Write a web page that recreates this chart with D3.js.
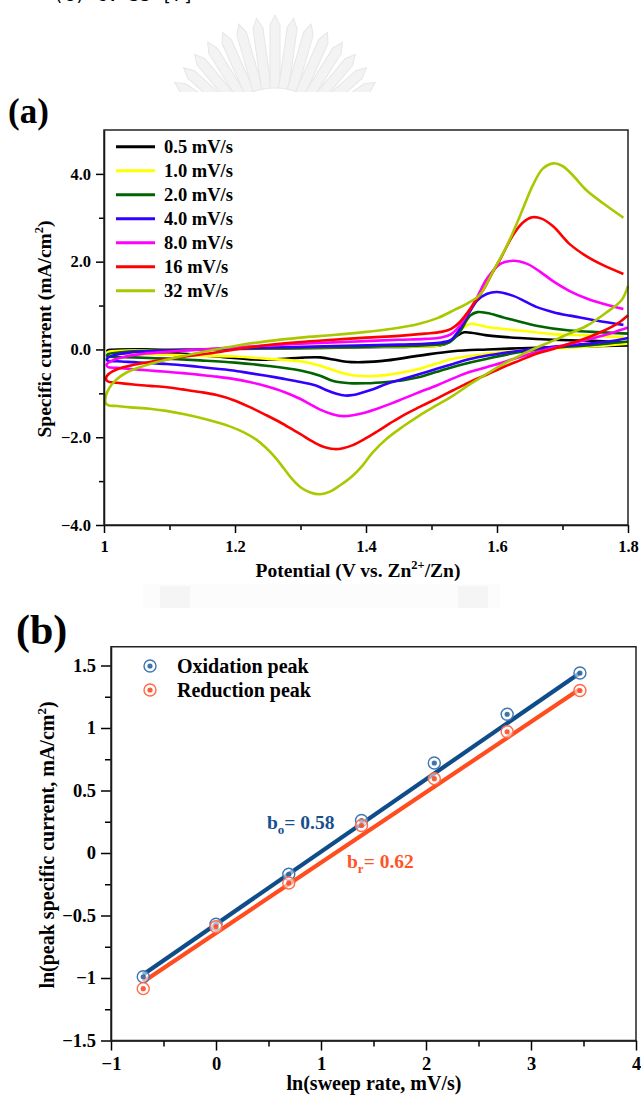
<!DOCTYPE html>
<html>
<head>
<meta charset="utf-8">
<script src="https://cdn.jsdelivr.net/npm/d3@7"></script>
<style>
  body { margin: 0; background: #fff; }
  svg { display: block; }
  text { font-family: "Liberation Serif", "Times New Roman", serif; font-weight: bold; fill: #000; }
</style>
</head>
<body>
<svg id="fig" width="641" height="1098"></svg>
<script>
// ---------- panel (a): CV loops, [potential (V), current (mA/cm2)]
// each loop: cathodic sweep 1.8 -> 1.0 V, then anodic sweep back to 1.8 V
const cv05 = [[1.800,0.09],[1.737,0.07],[1.660,0.04],[1.585,0.00],[1.533,-0.04],[1.482,-0.14],[1.432,-0.25],[1.395,-0.29],[1.370,-0.28],[1.350,-0.23],[1.330,-0.18],[1.300,-0.19],[1.270,-0.22],[1.230,-0.23],[1.180,-0.17],[1.120,-0.10],[1.060,-0.06],[1.005,-0.03],
  [1.010,-0.01],[1.100,0.00],[1.200,0.01],[1.300,0.03],[1.400,0.05],[1.480,0.07],[1.520,0.12],[1.538,0.30],[1.550,0.39],[1.585,0.32],[1.635,0.26],[1.686,0.22],[1.737,0.20],[1.798,0.15]];
const cv1 = [[1.800,0.13],[1.737,0.06],[1.686,0.02],[1.635,-0.03],[1.585,-0.10],[1.533,-0.21],[1.508,-0.32],[1.482,-0.44],[1.457,-0.52],[1.432,-0.58],[1.405,-0.61],[1.385,-0.60],[1.360,-0.52],[1.330,-0.37],[1.300,-0.27],[1.248,-0.21],[1.200,-0.16],[1.147,-0.14],[1.096,-0.12],[1.045,-0.10],[1.005,-0.07],
  [1.008,-0.05],[1.050,-0.02],[1.150,0.01],[1.250,0.03],[1.350,0.05],[1.450,0.07],[1.510,0.09],[1.530,0.20],[1.545,0.45],[1.559,0.58],[1.585,0.51],[1.635,0.43],[1.686,0.35],[1.737,0.32],[1.793,0.28]];
const cv2 = [[1.800,0.18],[1.737,0.09],[1.686,0.04],[1.635,-0.06],[1.585,-0.21],[1.559,-0.30],[1.533,-0.40],[1.508,-0.51],[1.482,-0.63],[1.457,-0.70],[1.432,-0.74],[1.400,-0.77],[1.375,-0.77],[1.350,-0.72],[1.330,-0.60],[1.300,-0.48],[1.248,-0.37],[1.200,-0.30],[1.147,-0.25],[1.096,-0.21],[1.045,-0.18],[1.005,-0.15],
  [1.006,-0.11],[1.030,-0.06],[1.080,-0.02],[1.150,0.00],[1.250,0.03],[1.350,0.05],[1.450,0.08],[1.500,0.10],[1.528,0.17],[1.543,0.40],[1.559,0.77],[1.570,0.85],[1.585,0.83],[1.610,0.73],[1.660,0.54],[1.711,0.43],[1.762,0.39],[1.800,0.36]];
const cv4 = [[1.800,0.26],[1.770,0.18],[1.737,0.13],[1.711,0.09],[1.686,0.06],[1.660,0.02],[1.635,-0.03],[1.610,-0.08],[1.585,-0.14],[1.559,-0.22],[1.533,-0.33],[1.508,-0.44],[1.482,-0.56],[1.457,-0.67],[1.432,-0.78],[1.412,-0.90],[1.395,-0.98],[1.380,-1.04],[1.368,-1.05],[1.355,-1.01],[1.340,-0.93],[1.330,-0.86],[1.315,-0.79],[1.300,-0.74],[1.275,-0.67],[1.248,-0.60],[1.222,-0.54],[1.197,-0.48],[1.172,-0.44],[1.147,-0.40],[1.120,-0.36],[1.096,-0.33],[1.070,-0.31],[1.045,-0.29],[1.020,-0.27],[1.005,-0.25],
  [1.005,-0.20],[1.015,-0.13],[1.040,-0.07],[1.080,-0.03],[1.150,0.00],[1.250,0.04],[1.350,0.08],[1.450,0.11],[1.490,0.13],[1.515,0.16],[1.530,0.22],[1.540,0.40],[1.555,0.77],[1.570,1.12],[1.585,1.27],[1.600,1.31],[1.625,1.22],[1.660,0.97],[1.686,0.85],[1.711,0.77],[1.737,0.70],[1.762,0.63],[1.793,0.56]];
const cv8 = [[1.800,0.50],[1.780,0.40],[1.762,0.32],[1.737,0.22],[1.711,0.13],[1.686,0.04],[1.660,-0.06],[1.635,-0.17],[1.610,-0.29],[1.585,-0.40],[1.559,-0.51],[1.533,-0.66],[1.508,-0.82],[1.482,-0.97],[1.457,-1.12],[1.437,-1.24],[1.417,-1.35],[1.398,-1.44],[1.380,-1.50],[1.365,-1.52],[1.350,-1.48],[1.330,-1.37],[1.315,-1.25],[1.300,-1.13],[1.275,-0.97],[1.248,-0.84],[1.222,-0.74],[1.197,-0.67],[1.172,-0.62],[1.147,-0.58],[1.120,-0.54],[1.096,-0.51],[1.070,-0.48],[1.045,-0.45],[1.020,-0.42],[1.006,-0.40],
  [1.004,-0.35],[1.010,-0.27],[1.030,-0.17],[1.060,-0.10],[1.100,-0.05],[1.150,0.00],[1.200,0.05],[1.250,0.09],[1.300,0.13],[1.350,0.16],[1.400,0.19],[1.450,0.22],[1.490,0.24],[1.515,0.27],[1.530,0.35],[1.543,0.54],[1.559,0.92],[1.570,1.20],[1.585,1.62],[1.605,1.95],[1.625,2.02],[1.646,1.95],[1.665,1.78],[1.686,1.55],[1.711,1.33],[1.737,1.16],[1.762,1.04],[1.793,0.92]];
const cv16 = [[1.800,0.78],[1.785,0.60],[1.762,0.42],[1.737,0.26],[1.711,0.13],[1.686,0.01],[1.660,-0.10],[1.635,-0.25],[1.610,-0.40],[1.585,-0.57],[1.559,-0.74],[1.533,-0.93],[1.508,-1.12],[1.482,-1.31],[1.457,-1.50],[1.437,-1.68],[1.417,-1.87],[1.398,-2.04],[1.380,-2.18],[1.365,-2.25],[1.352,-2.27],[1.340,-2.24],[1.330,-2.19],[1.315,-2.07],[1.300,-1.93],[1.285,-1.80],[1.270,-1.67],[1.248,-1.50],[1.222,-1.31],[1.197,-1.15],[1.172,-1.04],[1.147,-0.97],[1.120,-0.91],[1.096,-0.86],[1.070,-0.83],[1.045,-0.80],[1.020,-0.76],[1.006,-0.73],
  [1.003,-0.66],[1.008,-0.55],[1.020,-0.45],[1.045,-0.35],[1.080,-0.26],[1.120,-0.17],[1.170,-0.07],[1.200,0.00],[1.250,0.10],[1.300,0.17],[1.350,0.22],[1.400,0.27],[1.450,0.31],[1.490,0.36],[1.515,0.40],[1.530,0.47],[1.543,0.62],[1.559,0.92],[1.568,1.12],[1.580,1.38],[1.592,1.72],[1.605,2.06],[1.625,2.62],[1.640,2.90],[1.654,3.01],[1.668,2.98],[1.686,2.80],[1.711,2.40],[1.737,2.12],[1.762,1.92],[1.793,1.72]];
const cv32 = [[1.800,1.45],[1.790,1.12],[1.765,0.82],[1.737,0.54],[1.710,0.36],[1.686,0.20],[1.660,0.04],[1.635,-0.14],[1.610,-0.33],[1.585,-0.55],[1.560,-0.78],[1.533,-1.05],[1.508,-1.27],[1.482,-1.50],[1.457,-1.75],[1.432,-2.03],[1.410,-2.35],[1.395,-2.64],[1.378,-2.90],[1.360,-3.10],[1.345,-3.24],[1.330,-3.30],[1.315,-3.26],[1.300,-3.14],[1.287,-2.95],[1.275,-2.72],[1.262,-2.47],[1.248,-2.25],[1.232,-2.05],[1.215,-1.90],[1.195,-1.77],[1.172,-1.66],[1.145,-1.55],[1.121,-1.47],[1.095,-1.40],[1.070,-1.35],[1.040,-1.32],[1.020,-1.29],[1.006,-1.27],
  [1.002,-1.20],[1.003,-1.05],[1.008,-0.88],[1.018,-0.70],[1.035,-0.52],[1.060,-0.38],[1.100,-0.22],[1.150,-0.06],[1.200,0.08],[1.250,0.19],[1.300,0.27],[1.350,0.33],[1.400,0.40],[1.440,0.47],[1.480,0.58],[1.510,0.72],[1.535,0.90],[1.555,1.05],[1.574,1.25],[1.594,1.78],[1.615,2.36],[1.635,3.04],[1.655,3.75],[1.670,4.12],[1.686,4.24],[1.700,4.18],[1.715,3.98],[1.737,3.62],[1.762,3.33],[1.793,3.00]];

const cvSeries = [cv05, cv1, cv2, cv4, cv8, cv16, cv32];
const rateLabels = ["0.5 mV/s", "1.0 mV/s", "2.0 mV/s", "4.0 mV/s", "8.0 mV/s", "16 mV/s", "32 mV/s"];
const cvColors = ["#000000", "#ffff00", "#006400", "#3300ff", "#ff00ff", "#ff0000", "#aac800"];

const aTicksX = [1, 1.2, 1.4, 1.6, 1.8];
const aMinorX = [1.1, 1.3, 1.5, 1.7];
const aTicksY = [-4, -2, 0, 2, 4];
const aMinorY = [-3, -1, 1, 3];

// ---------- panel (b): ln(peak current) vs ln(sweep rate)
const lnRate = [-0.693, 0, 0.693, 1.386, 2.079, 2.773, 3.466];
const oxPeak = [-0.99, -0.57, -0.17, 0.26, 0.72, 1.11, 1.44];
const redPeak = [-1.085, -0.59, -0.24, 0.22, 0.595, 0.97, 1.30];
const peakNames = ["Oxidation peak", "Reduction peak"];
const fitSlope = [0.58, 0.563];
const fitIntercept = [-0.57, -0.64];
const fitLabels = ["0.58", "0.62"];
const fitSubs = ["o", "r"];

const bTicksX = [-1, 0, 1, 2, 3, 4];
const bMinorX = [-0.5, 0.5, 1.5, 2.5, 3.5];
const bTicksY = [-1.5, -1, -0.5, 0, 0.5, 1, 1.5];
const bMinorY = [-1.25, -0.75, -0.25, 0.25, 0.75, 1.25];

const svg = d3.select("#fig");
const fmt = d3.format("~g");

// faint watermark pieces behind everything
const wm = svg.append("g");
wm.append("clipPath").attr("id", "wmclip")
  .append("rect").attr("x", 0).attr("y", 0).attr("width", 641).attr("height", 92);
const fan = wm.append("g").attr("clip-path", "url(#wmclip)");
d3.range(-56, 57, 8).forEach(a => {
  const len = 135 - Math.abs(a) * 0.25;
  fan.append("path")
    .attr("transform", `translate(275,150) rotate(${a})`)
    .attr("d", `M-5,-62 L5,-62 L5,${-len + 10} L0,${-len} L-5,${-len + 10} Z`)
    .attr("fill", "#f3f3f3")
    .attr("stroke", "#e6e6e6")
    .attr("stroke-width", 1);
});
wm.append("rect").attr("x", 143).attr("y", 584).attr("width", 357).attr("height", 24).attr("fill", "#fcfcfc");
wm.append("rect").attr("x", 160).attr("y", 586).attr("width", 30).attr("height", 22).attr("fill", "#f5f5f5");
wm.append("rect").attr("x", 458).attr("y", 586).attr("width", 30).attr("height", 22).attr("fill", "#f5f5f5");

// cut-off line of text at the very top
svg.append("text").attr("x", 53).attr("y", 1)
  .style("font-family", "'DejaVu Sans Mono', monospace").style("font-weight", "normal")
  .style("font-size", "18px").attr("fill", "#333")
  .text("(c) CV-SS [7]");

function styleAxis(g, fs) {
  g.selectAll("path.domain").attr("stroke", "#000").attr("stroke-width", 1.5);
  g.selectAll(".tick line").attr("stroke", "#000").attr("stroke-width", 1.5);
  g.selectAll(".tick text")
    .style("font-family", "'Liberation Serif', 'Times New Roman', serif")
    .style("font-weight", "bold").style("font-size", fs + "px").attr("fill", "#000");
}

function drawAxes(g, x, y, o) {
  const [x0, x1] = x.range();
  const [y0, y1] = y.range();
  g.append("g").attr("transform", `translate(0,${y0})`)
    .call(d3.axisBottom(x).tickValues(o.tx).tickFormat(o.fx).tickSize(o.major).tickSizeOuter(0).tickPadding(o.padX))
    .call(a => styleAxis(a, o.fs));
  g.append("g").attr("transform", `translate(0,${y0})`)
    .call(d3.axisBottom(x).tickValues(o.mx).tickFormat("").tickSize(o.minor))
    .call(a => { a.select(".domain").remove(); styleAxis(a, o.fs); });
  g.append("g").attr("transform", `translate(${x0},0)`)
    .call(d3.axisLeft(y).tickValues(o.ty).tickFormat(o.fy).tickSize(o.major).tickSizeOuter(0).tickPadding(5))
    .call(a => styleAxis(a, o.fs));
  g.append("g").attr("transform", `translate(${x0},0)`)
    .call(d3.axisLeft(y).tickValues(o.my).tickFormat("").tickSize(o.minor))
    .call(a => { a.select(".domain").remove(); styleAxis(a, o.fs); });
  g.append("rect").attr("x", x0).attr("y", y1).attr("width", x1 - x0).attr("height", y0 - y1)
    .attr("fill", "none").attr("stroke", "#222").attr("stroke-width", 1.5);
}

// ===== panel (a)
const xA = d3.scaleLinear().domain([1, 1.8]).range([104, 628]);
const yA = d3.scaleLinear().domain([-4, 5]).range([525, 130]);
const gA = svg.append("g");

svg.append("text").attr("x", 8).attr("y", 123).style("font-size", "35px").text("(a)");

gA.append("clipPath").attr("id", "clipA")
  .append("rect").attr("x", 104).attr("y", 130).attr("width", 526).attr("height", 395);

const cvLine = d3.line().x(d => xA(d[0])).y(d => yA(d[1])).curve(d3.curveCatmullRom.alpha(0.5));
gA.append("g").attr("clip-path", "url(#clipA)")
  .selectAll("path").data(cvSeries).join("path")
  .attr("d", cvLine)
  .attr("fill", "none")
  .attr("stroke", (d, i) => cvColors[i])
  .attr("stroke-width", 2.6)
  .attr("stroke-linejoin", "round");

drawAxes(gA, xA, yA, {
  tx: aTicksX, mx: aMinorX, ty: aTicksY, my: aMinorY,
  fx: fmt, fy: d3.format(".1f"), major: 8, minor: 5, fs: 16.5, padX: 7
});

const legA = gA.append("g");
rateLabels.forEach((t, i) => {
  const yy = 146.7 + i * 24;
  legA.append("line").attr("x1", 116).attr("x2", 155).attr("y1", yy).attr("y2", yy)
    .attr("stroke", cvColors[i]).attr("stroke-width", 3);
  legA.append("text").attr("x", 164).attr("y", yy).attr("dy", "0.35em")
    .style("font-size", "18.5px").text(t);
});

const yTitleA = gA.append("text").attr("transform", "translate(51,329) rotate(-90)")
  .attr("text-anchor", "middle").style("font-size", "19.5px");
yTitleA.append("tspan").text("Specific current (mA/cm");
yTitleA.append("tspan").attr("dy", -8).style("font-size", "12.5px").text("2");
yTitleA.append("tspan").attr("dy", 8).text(")");

const xTitleA = gA.append("text").attr("x", 358).attr("y", 577)
  .attr("text-anchor", "middle").style("font-size", "19.5px");
xTitleA.append("tspan").text("Potential (V vs. Zn");
xTitleA.append("tspan").attr("dy", -8).style("font-size", "12.5px").text("2+");
xTitleA.append("tspan").attr("dy", 8).text("/Zn)");

// ===== panel (b)
const xB = d3.scaleLinear().domain([-1, 4]).range([111, 636]);
const yB = d3.scaleLinear().domain([-1.5, 1.65]).range([1040.5, 646.75]);
const gB = svg.append("g");

svg.append("text").attr("x", 16).attr("y", 644).style("font-size", "42px").text("(b)");

drawAxes(gB, xB, yB, {
  tx: bTicksX, mx: bMinorX, ty: bTicksY, my: bMinorY,
  fx: fmt, fy: fmt, major: 10, minor: 6, fs: 18.5, padX: 6
});

const peakSets = [oxPeak, redPeak];
const lineCol = ["#0f4c8a", "#ff4d1f"];
const ringCol = ["#3f76b4", "#ff6a48"];
const dotCol = ["#1d5a9e", "#ff3f1a"];
const textCol = ["#174f8f", "#ff5426"];

const xr = d3.extent(lnRate);
peakSets.forEach((p, k) => {
  const ends = xr.map(v => [v, fitSlope[k] * v + fitIntercept[k]]);
  gB.append("line")
    .attr("x1", xB(ends[0][0])).attr("y1", yB(ends[0][1]))
    .attr("x2", xB(ends[1][0])).attr("y2", yB(ends[1][1]))
    .attr("stroke", lineCol[k]).attr("stroke-width", 4.2);
});

function marker(g, cx, cy, k) {
  g.append("circle").attr("cx", cx).attr("cy", cy).attr("r", 6)
    .attr("fill", "#fff").attr("fill-opacity", 0.55)
    .attr("stroke", ringCol[k]).attr("stroke-width", 1.4);
  g.append("circle").attr("cx", cx).attr("cy", cy).attr("r", 2.6)
    .attr("fill", dotCol[k]).attr("fill-opacity", 0.85);
}

peakSets.forEach((p, k) => {
  const g = gB.append("g");
  lnRate.forEach((v, i) => marker(g, xB(v), yB(p[i]), k));
});

// legend
peakNames.forEach((t, k) => {
  const yy = 666 + k * 24;
  marker(gB, 150, yy, k);
  gB.append("text").attr("x", 177).attr("y", yy).attr("dy", "0.35em")
    .style("font-size", "20px").text(t);
});

// slope annotations
const annPos = [[267, 829], [347, 868]];
fitLabels.forEach((t, k) => {
  const tx = gB.append("text").attr("x", annPos[k][0]).attr("y", annPos[k][1])
    .style("font-size", "19.5px").attr("fill", textCol[k]);
  tx.append("tspan").attr("fill", textCol[k]).text("b");
  tx.append("tspan").attr("dy", 5).attr("fill", textCol[k]).style("font-size", "13px").text(fitSubs[k]);
  tx.append("tspan").attr("dy", -5).attr("fill", textCol[k]).text("= " + t);
});

const yTitleB = gB.append("text").attr("transform", "translate(54,845) rotate(-90)")
  .attr("text-anchor", "middle").style("font-size", "20px");
yTitleB.append("tspan").text("ln(peak specific current, mA/cm");
yTitleB.append("tspan").attr("dy", -8).style("font-size", "13px").text("2");
yTitleB.append("tspan").attr("dy", 8).text(")");

gB.append("text").attr("x", 374).attr("y", 1090).attr("text-anchor", "middle")
  .style("font-size", "20px").text("ln(sweep rate, mV/s)");
</script>
</body>
</html>
